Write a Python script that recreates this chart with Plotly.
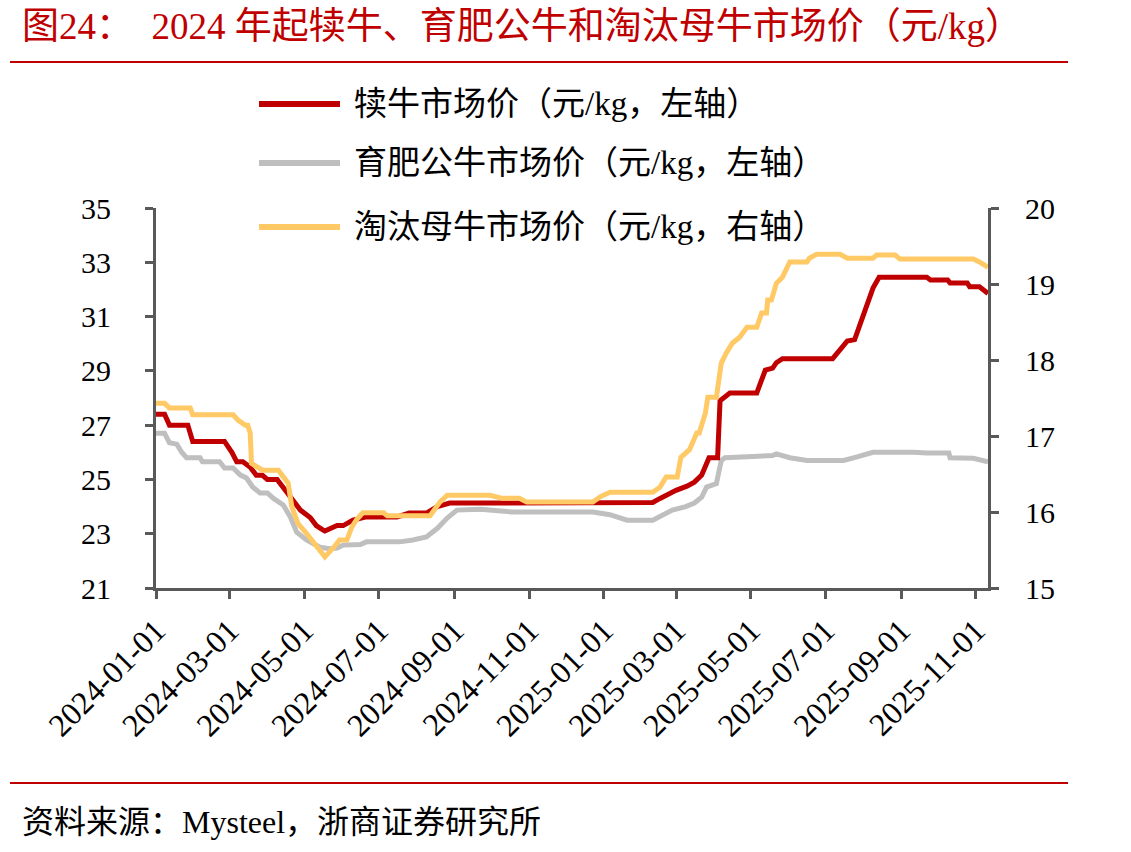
import plotly.graph_objects as go

# ---------------- data ----------------
calf_dates = ["2024-01-01","2024-01-08","2024-01-12","2024-01-27","2024-01-31","2024-02-26","2024-03-03","2024-03-07",
              "2024-03-12","2024-03-18","2024-03-23","2024-03-28","2024-04-01","2024-04-09","2024-04-14","2024-04-22",
              "2024-04-28","2024-05-06","2024-05-11","2024-05-16","2024-05-18","2024-05-28","2024-06-02","2024-06-10",
              "2024-06-21","2024-07-16","2024-07-26","2024-08-09","2024-08-18","2024-08-28","2024-09-27","2025-02-10",
              "2025-02-16","2025-02-24","2025-03-01","2025-03-10","2025-03-16","2025-03-22","2025-03-26","2025-03-28",
              "2025-04-04","2025-04-06","2025-04-14","2025-05-06","2025-05-09","2025-05-13","2025-05-19","2025-05-22",
              "2025-05-27","2025-07-07","2025-07-13","2025-07-19","2025-07-25","2025-07-31","2025-08-05","2025-08-09",
              "2025-08-14","2025-09-22","2025-09-25","2025-10-09","2025-10-11","2025-10-25","2025-10-27","2025-11-04",
              "2025-11-11"]
calf_price = [27.4,27.4,27.0,27.0,26.4,26.4,26.0,25.65,
              25.65,25.45,25.15,25.15,25.0,25.0,24.7,24.25,
              23.87,23.6,23.3,23.15,23.1,23.3,23.3,23.5,
              23.62,23.62,23.76,23.76,24.0,24.13,24.13,24.15,
              24.3,24.5,24.6,24.75,24.9,25.16,25.6,25.8,
              25.8,27.9,28.18,28.18,28.55,29.03,29.1,29.3,
              29.45,29.45,29.77,30.1,30.15,30.87,31.6,32.05,
              32.45,32.45,32.35,32.35,32.24,32.24,32.1,32.1,
              31.85]

bull_dates = ["2024-01-01","2024-01-08","2024-01-12","2024-01-18","2024-01-22","2024-01-26","2024-02-06","2024-02-08",
              "2024-02-22","2024-02-26","2024-03-04","2024-03-10","2024-03-15","2024-03-20","2024-03-26","2024-04-01",
              "2024-04-06","2024-04-14","2024-04-20","2024-04-25","2024-05-03","2024-05-14","2024-05-22","2024-05-28",
              "2024-06-02","2024-06-16","2024-06-21","2024-07-18","2024-07-29","2024-08-09","2024-08-18","2024-08-26",
              "2024-09-03","2024-09-22","2024-10-18","2024-12-23","2025-01-06","2025-01-20","2025-02-10","2025-02-18",
              "2025-02-26","2025-03-09","2025-03-16","2025-03-22","2025-03-26","2025-04-03","2025-04-07","2025-04-10",
              "2025-05-19","2025-05-22","2025-06-02","2025-06-16","2025-07-16","2025-07-27","2025-08-09","2025-09-11",
              "2025-09-22","2025-10-10","2025-10-11","2025-10-30","2025-11-11"]
bull_price = [26.7,26.7,26.35,26.3,26.0,25.8,25.8,25.65,
              25.65,25.42,25.42,25.16,25.05,24.72,24.5,24.5,
              24.3,24.06,23.6,23.06,22.77,22.5,22.45,22.47,
              22.58,22.6,22.7,22.7,22.77,22.88,23.2,23.58,
              23.87,23.9,23.8,23.8,23.7,23.5,23.5,23.7,
              23.87,24.0,24.13,24.35,24.72,24.85,25.7,25.8,
              25.88,25.94,25.8,25.7,25.7,25.83,26.0,26.0,
              25.97,25.97,25.8,25.78,25.65]

cow_dates = ["2024-01-01","2024-01-08","2024-01-12","2024-01-29","2024-01-31","2024-03-04","2024-03-08","2024-03-14",
             "2024-03-16","2024-03-18","2024-03-19","2024-03-28","2024-04-10","2024-04-14","2024-04-18","2024-04-21",
             "2024-04-26","2024-05-03","2024-05-12","2024-05-18","2024-05-25","2024-05-30","2024-06-05","2024-06-09",
             "2024-06-13","2024-06-18","2024-07-05","2024-07-08","2024-08-12","2024-08-18","2024-08-20","2024-08-26",
             "2024-09-30","2024-10-10","2024-10-24","2024-10-30","2024-12-23","2024-12-29","2025-01-06","2025-02-10",
             "2025-02-16","2025-02-21","2025-03-02","2025-03-05","2025-03-12","2025-03-18","2025-03-20","2025-03-25",
             "2025-03-27","2025-04-03","2025-04-07","2025-04-11","2025-04-16","2025-04-22","2025-04-28","2025-05-06",
             "2025-05-10","2025-05-14","2025-05-15","2025-05-18","2025-05-22","2025-05-27","2025-06-02","2025-06-16",
             "2025-06-18","2025-06-24","2025-07-13","2025-07-19","2025-08-09","2025-08-12","2025-08-27","2025-08-31",
             "2025-10-30","2025-11-04","2025-11-11"]
cow_price = [17.43,17.43,17.37,17.37,17.28,17.28,17.21,17.14,
             17.14,17.04,16.64,16.55,16.55,16.46,16.38,16.07,
             15.85,15.72,15.54,15.41,15.53,15.63,15.63,15.8,
             15.9,15.99,15.99,15.95,15.95,16.07,16.13,16.22,
             16.22,16.18,16.18,16.13,16.13,16.2,16.26,16.26,
             16.33,16.46,16.46,16.72,16.82,17.04,17.04,17.3,
             17.51,17.51,17.96,18.09,18.22,18.3,18.43,18.43,
             18.62,18.62,18.79,18.79,19.01,19.09,19.29,19.29,
             19.34,19.39,19.39,19.34,19.34,19.38,19.38,19.33,
             19.33,19.29,19.22]

series_names = ["犊牛市场价（元/kg，左轴）", "育肥公牛市场价（元/kg，左轴）", "淘汰母牛市场价（元/kg，右轴）"]
series_colors = ["#C00000", "#BFBFBF", "#FFC966"]
title_text = "图24：  2024 年起犊牛、育肥公牛和淘汰母牛市场价（元/kg）"
source_text = "资料来源：Mysteel，浙商证券研究所"

# ---------------- layout geometry ----------------
W, H = 1131, 852
PL, PR, PT, PB = 156, 988, 208, 588   # plot area in pixels

def fx(p):
    return (p - PL) / (PR - PL)

def fy(p):
    return (PB - p) / (PB - PT)

FONT = "'Liberation Serif', 'Times New Roman', 'Noto Sans CJK SC', serif"
AXIS_COLOR = "#595959"

fig = go.Figure()
fig.add_trace(go.Scatter(x=bull_dates, y=bull_price, mode="lines", name=series_names[1],
                         line=dict(color=series_colors[1], width=5), yaxis="y"))
fig.add_trace(go.Scatter(x=calf_dates, y=calf_price, mode="lines", name=series_names[0],
                         line=dict(color=series_colors[0], width=5), yaxis="y"))
fig.add_trace(go.Scatter(x=cow_dates, y=cow_price, mode="lines", name=series_names[2],
                         line=dict(color=series_colors[2], width=5), yaxis="y2"))

shapes = []
annotations = []

# red rules
for yy in (62, 783):
    shapes.append(dict(type="line", xref="paper", yref="paper", x0=fx(10), x1=fx(1068), y0=fy(yy), y1=fy(yy),
                       line=dict(color="#C00000", width=2)))

# manual legend (long line samples like the reference)
legend_y = [104, 163, 227]
for name, color, ly in zip(series_names, series_colors, legend_y):
    shapes.append(dict(type="line", xref="paper", yref="paper", x0=fx(259), x1=fx(340), y0=fy(ly), y1=fy(ly),
                       line=dict(color=color, width=6)))
    annotations.append(dict(xref="paper", yref="paper", x=fx(352), y=fy(ly), xanchor="left", yanchor="middle",
                            text=name, showarrow=False, font=dict(family=FONT, size=33, color="#000000")))

annotations.append(dict(xref="paper", yref="paper", x=fx(20), y=fy(26), xanchor="left", yanchor="middle",
                        text=title_text, showarrow=False, font=dict(family=FONT, size=37, color="#C00000")))
annotations.append(dict(xref="paper", yref="paper", x=fx(20), y=fy(822), xanchor="left", yanchor="middle",
                        text=source_text, showarrow=False, font=dict(family=FONT, size=32, color="#000000")))

fig.update_layout(
    width=W, height=H, autosize=False,
    margin=dict(l=PL, r=W - PR, t=PT, b=H - PB, pad=0),
    paper_bgcolor="white", plot_bgcolor="white",
    showlegend=False,
    font=dict(family=FONT, color="#000000"),
    xaxis=dict(type="date", range=["2024-01-01", "2025-11-11"], tick0="2024-01-01", dtick="M2",
               tickformat="%Y-%m-%d", tickangle=-45, showgrid=False, zeroline=False,
               showline=True, linecolor=AXIS_COLOR, linewidth=3, ticks="outside", ticklen=8, tickwidth=2.5,
               tickcolor=AXIS_COLOR, tickfont=dict(family=FONT, size=32, color="#000000"), automargin=False),
    yaxis=dict(range=[21, 35], dtick=2, tick0=21, showgrid=False, zeroline=False,
               showline=True, linecolor=AXIS_COLOR, linewidth=3, ticks="outside", ticklen=8, tickwidth=2.5,
               tickcolor=AXIS_COLOR, tickfont=dict(family=FONT, size=30, color="#000000"),
               ticklabelstandoff=28, automargin=False),
    yaxis2=dict(range=[15, 20], dtick=1, tick0=15, overlaying="y", side="right", showgrid=False, zeroline=False,
                showline=True, linecolor=AXIS_COLOR, linewidth=3, ticks="outside", ticklen=8, tickwidth=2.5,
                tickcolor=AXIS_COLOR, tickfont=dict(family=FONT, size=30, color="#000000"),
                ticklabelstandoff=20, automargin=False),
    shapes=shapes,
    annotations=annotations,
)

fig.write_html("out.html")
